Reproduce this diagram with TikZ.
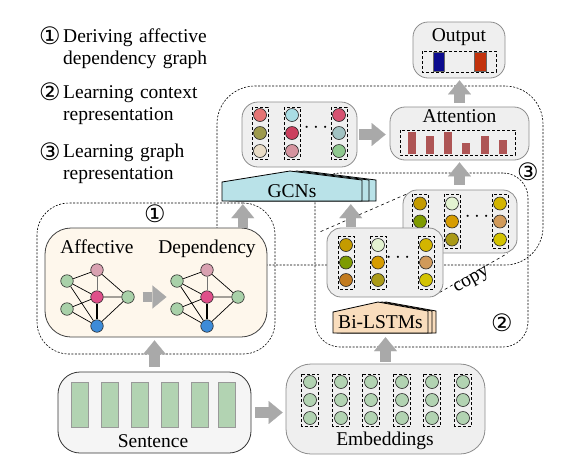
\documentclass[tikz,border=0pt]{standalone}
\usepackage{fontspec}
\setmainfont{Liberation Serif}
\newfontfamily\symfont{DejaVu Sans}
\usepackage{tikz}
\usetikzlibrary{arrows.meta,calc}
\usepackage{xcolor}

\definecolor{leafgreen}{HTML}{B2D3B2}
\definecolor{boxfill}{HTML}{EFEFEF}
\definecolor{boxline}{HTML}{8C8C8C}
\definecolor{creamfill}{HTML}{FEF7EC}
\definecolor{arrowgray}{HTML}{A9A9A9}
\definecolor{gcncyan}{HTML}{B9E2E8}
\definecolor{lstmpeach}{HTML}{F9DDBD}
\definecolor{barred}{HTML}{AE5555}
\definecolor{outblue}{HTML}{0B0B8E}
\definecolor{outred}{HTML}{C2320C}
\definecolor{graphgreen}{HTML}{A9D1A9}
\definecolor{graphpink}{HTML}{D9A1B1}
\definecolor{graphmag}{HTML}{DF4F8A}
\definecolor{graphblue}{HTML}{3D8BD8}
% gcn outputs
\definecolor{gA}{HTML}{E57474}
\definecolor{gB}{HTML}{9D9A4C}
\definecolor{gC}{HTML}{E9DCC6}
\definecolor{gD}{HTML}{A9DDE4}
\definecolor{gE}{HTML}{CB3F5E}
\definecolor{gF}{HTML}{D5949F}
\definecolor{gG}{HTML}{D65271}
\definecolor{gH}{HTML}{A2C3C3}
\definecolor{gI}{HTML}{8FC88F}
% lstm hidden states
\definecolor{hA}{HTML}{C49B00}
\definecolor{hB}{HTML}{7E9B00}
\definecolor{hC}{HTML}{C27B1E}
\definecolor{hD}{HTML}{E3F3D1}
\definecolor{hE}{HTML}{D69C00}
\definecolor{hF}{HTML}{AA9A17}
\definecolor{hG}{HTML}{D3B500}
\definecolor{hH}{HTML}{D19A5A}
\definecolor{hI}{HTML}{D3C300}

\newcommand\circnum[1]{{\fontsize{24}{24}\symfont #1}}

\tikzset{
  regionbox/.style={draw, line width=0.6pt, dash pattern=on 2pt off 1.5pt, rounded corners=#1, inner sep=0pt},
  graybox/.style={draw=boxline, fill=boxfill, line width=0.8pt, rounded corners=#1, inner sep=0pt},
  cell/.style={circle, draw=black!85, line width=0.6pt, minimum size=13pt, inner sep=0pt},
  gnode/.style={circle, draw=black!85, line width=0.6pt, minimum size=12.5pt, inner sep=0pt},
  colbox/.style={draw, line width=0.7pt, dash pattern=on 3pt off 2pt},
  blockarr/.style={draw=arrowgray, line width=10.5pt, -{Triangle[length=14pt,width=23pt,line width=0.1pt]}},
  gedge/.style={line width=0.7pt},
  legend/.style={anchor=base west, text width=175pt, align=left, inner sep=0pt},
}

\begin{document}
\begin{tikzpicture}[x=1pt,y=-1pt,font=\fontsize{19.5}{22}\selectfont]
		\useasboundingbox (0,0) rectangle (565,475);

		% LEGEND
		\node (n1) at (50,36) {\circnum{①}};
		\node[legend] (l1) at (63,42) {Deriving affective\\dependency graph};
		\node (n2) at (50,92) {\circnum{②}};
		\node[legend] (l2) at (63,98) {Learning context\\representation};
		\node (n3) at (50,152) {\circnum{③}};
		\node[legend] (l3) at (63,157) {Learning graph\\representation};

		% REGIONS
		\node[regionbox=38pt, minimum width=326pt, minimum height=179pt] (reg3) at (380,175.5) {};
		\node[regionbox=25pt, minimum width=213pt, minimum height=174pt] (reg2) at (421.5,260) {};
		\node[regionbox=32pt, minimum width=238pt, minimum height=151pt] (reg1) at (156,278.5) {};
		\node (r1) at (155,214) {\circnum{①}};
		\node (r2) at (502,323) {\circnum{②}};
		\node (r3) at (528,172) {\circnum{③}};

		% AFFECTIVE / DEPENDENCY GRAPH
		\node[draw=black!75, fill=creamfill, line width=0.8pt, rounded corners=26pt, minimum width=222pt, minimum height=109pt, inner sep=0pt] (aff) at (156,282.5) {};
		\node[anchor=base] (afftxt) at (97,253) {Affective};
		\node[anchor=base] (deptxt) at (207,253) {Dependency};
		\foreach \g/\dx in {a/0,d/110} {
			\node[gnode, fill=graphgreen] (\g1) at (67+\dx,281) {};
			\node[gnode, fill=graphgreen] (\g2) at (67+\dx,309) {};
			\node[gnode, fill=graphpink] (\g3) at (97+\dx,270) {};
			\node[gnode, fill=graphmag] (\g4) at (97+\dx,297) {};
			\node[gnode, fill=graphgreen] (\g5) at (128+\dx,297) {};
			\node[gnode, fill=graphblue] (\g6) at (97+\dx,326) {};
			\draw[gedge] (\g1) -- (\g3) (\g1) -- (\g4) (\g1) -- (\g6) (\g2) -- (\g4) (\g2) -- (\g6)
				(\g3) -- (\g5) (\g4) -- (\g5) (\g6) -- (\g5);
			\draw[gedge, black!55] (\g3) -- (\g4);
			\draw[line width=1.3pt] (\g4) -- (\g6);
		}
		\draw[blockarr, shorten <=8pt, shorten >=4pt] (a5.east) -- (a5.east -| d1.west);

		% GCN OUTPUTS
		\node[graybox=16pt, minimum width=115pt, minimum height=65pt] (gbox) at (299.5,134.5) {};
		\foreach \x/\ca/\cb/\cc [count=\i] in {260/gA/gB/gC, 292/gD/gE/gF, 339/gG/gH/gI} {
			\draw[colbox] (\x-8,107) rectangle (\x+8,159);
			\node[cell, fill=\ca] (g\i-1) at (\x,115) {};
			\node[cell, fill=\cb] (g\i-2) at (\x,133) {};
			\node[cell, fill=\cc] (g\i-3) at (\x,151) {};
		}
		\node (gdots) at (316,128) {$\cdots$};

		% ATTENTION
		\node[graybox=15pt, minimum width=139pt, minimum height=53pt] (att) at (459.5,133.5) {};
		\node[anchor=base] (atttxt) at (459.5,122) {Attention};
		\draw[colbox] (400,130) rectangle (515,155);
		\foreach \x/\t in {412/132, 429.5/136, 448/132, 466/143, 484.5/136, 503/140}
			\fill[barred] (\x-4,\t) rectangle (\x+4,154);

		% OUTPUT
		\node[graybox=15pt, minimum width=92pt, minimum height=56pt] (out) at (459,50) {};
		\node[anchor=base] (outtxt) at (459,41) {Output};
		\draw[colbox] (422,51) rectangle (496,72);
		\filldraw[fill=outblue, draw=black!60, line width=0.4pt] (433,52) rectangle (444,71);
		\filldraw[fill=outred, draw=black!60, line width=0.4pt] (474,52) rectangle (486,71);

		% BI-LSTM HIDDEN STATES (COPY BEHIND)
		\node[graybox=14pt, minimum width=114pt, minimum height=63pt] (back) at (460,221.5) {};
		\foreach \x/\ca/\cb/\cc [count=\i] in {420/hA/hB/hC, 452/hD/hE/hF, 500/hG/hH/hI} {
			\draw[colbox] (\x-8,194) rectangle (\x+8,248);
			\node[cell, fill=\ca] (b\i-1) at (\x,203.5) {};
			\node[cell, fill=\cb] (b\i-2) at (\x,221.5) {};
			\node[cell, fill=\cc] (b\i-3) at (\x,239.5) {};
		}
		\node (bdots) at (477,217) {$\cdots$};
		\draw[dashed, line width=0.6pt] ($(back.north west)+(-82,42)$) -- ($(back.north west)+(5,4)$);
		\draw[dashed, line width=0.6pt] ($(back.south east)+(-83,42)$) -- ($(back.south east)+(-10,0)$);
		\node[rotate=29] (copytxt) at (472,281) {copy};

		% BI-LSTM HIDDEN STATES (FRONT)
		\node[graybox=14pt, minimum width=116pt, minimum height=69pt] (front) at (385,262.5) {};
		\foreach \x/\ca/\cb/\cc [count=\i] in {346/hA/hB/hC, 378/hD/hE/hF, 426/hG/hH/hI} {
			\draw[colbox] (\x-8,236) rectangle (\x+8,289);
			\node[cell, fill=\ca] (f\i-1) at (\x,245) {};
			\node[cell, fill=\cb] (f\i-2) at (\x,262.5) {};
			\node[cell, fill=\cc] (f\i-3) at (\x,280) {};
		}
		\node (fdots) at (398,258) {$\cdots$};

		% GCN LAYER
		\foreach \s in {14,7,0}
			\draw[fill=gcncyan, line width=0.8pt, xshift=\s pt] (222,201) -- (222,182) -- (290,171) -- (362,180) -- (362,201) -- cycle;
		\node[minimum width=140pt, minimum height=20pt, inner sep=0pt] (gcn) at (292,191) {};
		\node[anchor=base] (gcntxt) at (292,197) {GCNs};

		% BI-LSTM LAYER
		\foreach \s in {8,4,0}
			\draw[fill=lstmpeach, line width=0.8pt, xshift=\s pt] (333,333) -- (333,312) -- (378,302) -- (428,311) -- (428,333) -- cycle;
		\node[minimum width=95pt, minimum height=21pt, inner sep=0pt] (lstm) at (380.5,322.5) {};
		\node[anchor=base] (lstmtxt) at (380.5,328) {Bi-LSTMs};

		% SENTENCE
		\node[draw=black!80, fill=black!4, line width=0.8pt, rounded corners=22pt, minimum width=193pt, minimum height=81pt, inner sep=0pt] (sent) at (154.5,412.5) {};
		\foreach \x in {79.5,109.5,139.5,169.5,199.5,226.5}
			\filldraw[fill=leafgreen, draw=black!40, line width=0.6pt] (\x-8.5,382) rectangle (\x+8.5,427);
		\node[anchor=base] (senttxt) at (153,447) {Sentence};

		% EMBEDDINGS
		\node[graybox=25pt, minimum width=199pt, minimum height=90pt] (emb) at (385.5,409) {};
		\foreach \x [count=\i] in {310,341,371,402,432,463} {
			\draw[colbox] (\x-8.5,374) rectangle (\x+8.5,426);
			\node[cell, fill=leafgreen] (e\i-1) at (\x,382) {};
			\node[cell, fill=leafgreen] (e\i-2) at (\x,400) {};
			\node[cell, fill=leafgreen] (e\i-3) at (\x,418) {};
		}
		\node[anchor=base] (embtxt) at (385,445) {Embeddings};

		% ARROWS
		\coordinate (gcnin) at ($(gcn.south west)+(21,0)$);
		\coordinate (gcnin2) at ($(gcn.south west)+(129,0)$);
		\draw[blockarr, shorten <=5pt, shorten >=3pt] (sent.north) -- (sent.north |- aff.south);
		\draw[blockarr, shorten <=4pt, shorten >=3pt] (sent.east) -- (sent.east -| emb.west);
		\draw[blockarr, shorten <=2pt, shorten >=4pt] (emb.north) -- (emb.north |- lstm.south);
		\draw[blockarr, shorten >=3pt] (aff.north -| gcnin) -- (gcnin);
		\draw[blockarr, shorten <=1pt, shorten >=3pt] (front.north -| gcnin2) -- (gcnin2);
		\draw[blockarr, shorten <=2pt, shorten >=4pt] (gbox.east) -- (gbox.east -| att.west);
		\draw[blockarr, shorten <=5pt, shorten >=2pt] (att.south |- back.north) -- (att.south);
		\draw[blockarr, shorten <=4pt, shorten >=2pt] (att.north) -- (att.north |- out.south);
\end{tikzpicture}
\end{document}
